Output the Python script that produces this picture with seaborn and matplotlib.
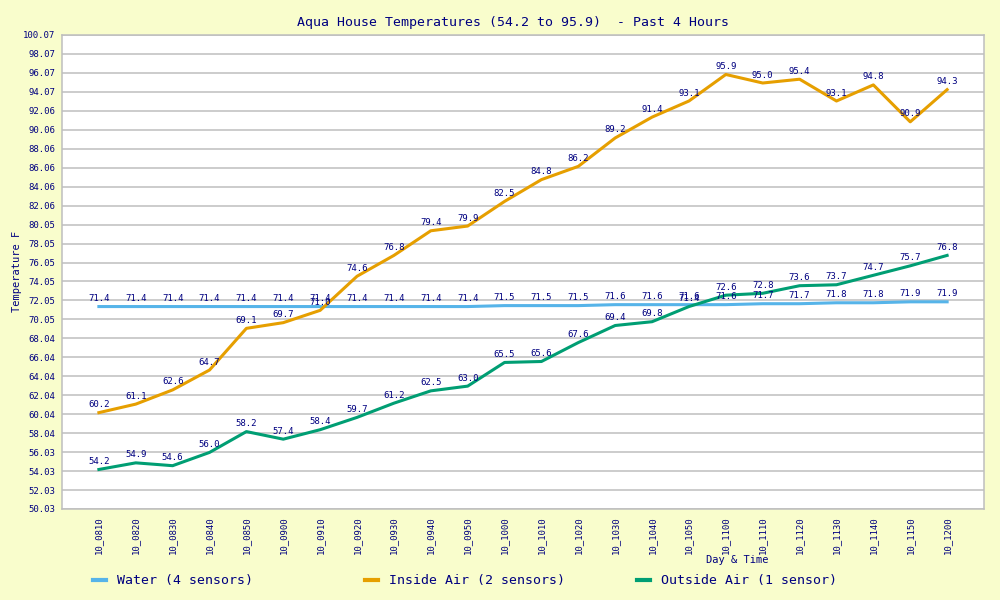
import numpy as np
import pandas as pd
import seaborn as sns
import matplotlib
matplotlib.use('Agg')
import matplotlib.pyplot as plt

# Data
times = ['10_0810', '10_0820', '10_0830', '10_0840', '10_0850', '10_0900',
         '10_0910', '10_0920', '10_0930', '10_0940', '10_0950', '10_1000',
         '10_1010', '10_1020', '10_1030', '10_1040', '10_1050', '10_1100',
         '10_1110', '10_1120', '10_1130', '10_1140', '10_1150', '10_1200']
water = [71.4, 71.4, 71.4, 71.4, 71.4, 71.4, 71.4, 71.4, 71.4, 71.4, 71.4, 71.5,
         71.5, 71.5, 71.6, 71.6, 71.6, 71.6, 71.7, 71.7, 71.8, 71.8, 71.9, 71.9]
inside_air = [60.2, 61.1, 62.6, 64.7, 69.1, 69.7, 71.0, 74.6, 76.8, 79.4, 79.9, 82.5,
              84.8, 86.2, 89.2, 91.4, 93.1, 95.9, 95.0, 95.4, 93.1, 94.8, 90.9, 94.3]
outside_air = [54.2, 54.9, 54.6, 56.0, 58.2, 57.4, 58.4, 59.7, 61.2, 62.5, 63.0, 65.5,
               65.6, 67.6, 69.4, 69.8, 71.4, 72.6, 72.8, 73.6, 73.7, 74.7, 75.7, 76.8]
series_names = ['Water (4 sensors)', 'Inside Air (2 sensors)', 'Outside Air (1 sensor)']
y_min, y_max = 50.03, 100.07

colors = ['#56B4E9', '#E69F00', '#009E73']
navy = '#000080'
bg = '#F9FDCC'

rows = []
for name, vals in zip(series_names, [water, inside_air, outside_air]):
    for i, v in enumerate(vals):
        rows.append({'idx': i, 'time': times[i], 'temp': v, 'series': name})
df = pd.DataFrame(rows)

plt.rcParams['font.family'] = ['DejaVu Sans Mono', 'DejaVu Sans']

fig = plt.figure(figsize=(10, 6), dpi=100, facecolor=bg)
ax = fig.add_axes([0.062, 0.1517, 0.922, 0.79])
ax.set_facecolor('white')

sns.lineplot(data=df, x='idx', y='temp', hue='series', palette=colors,
             hue_order=series_names, linewidth=2.2, ax=ax)

# value labels above each point
for name in series_names:
    sub = df[df['series'] == name]
    for _, r in sub.iterrows():
        ax.annotate(f"{r['temp']:.1f}", (r['idx'], r['temp']), xytext=(0, 2.5),
                    textcoords='offset points', ha='center', va='bottom',
                    fontsize=6.5, color=navy)

ax.set_xlim(-1, len(times))
ax.set_ylim(y_min, y_max)
yticks = np.linspace(y_min, y_max, 26)
ax.set_yticks(yticks)
ax.set_yticklabels([f"{t:.2f}" for t in yticks])
ax.set_xticks(range(len(times)))
ax.set_xticklabels(times, rotation=90)
ax.tick_params(axis='both', length=0, labelsize=6.5, labelcolor=navy)
ax.tick_params(axis='y', pad=5)
ax.tick_params(axis='x', pad=5)
ax.yaxis.grid(True, color='#BEBEBE', linewidth=1.1)
ax.xaxis.grid(False)
ax.set_axisbelow(True)
for s in ax.spines.values():
    s.set_color('#BEBEBE')
    s.set_linewidth(1.1)
ax.set_xlabel('')
ax.set_ylabel('')

handles, labels = ax.get_legend_handles_labels()
ax.get_legend().remove()

fig.text(0.513, 0.962, 'Aqua House Temperatures (54.2 to 95.9)  - Past 4 Hours',
         ha='center', va='center', fontsize=9.5, color=navy)
fig.text(0.017, 0.547, 'Temperature F', rotation=90, ha='center', va='center',
         fontsize=7.5, color=navy)
fig.text(0.737, 0.067, 'Day & Time', ha='center', va='center', fontsize=7.5, color=navy)

for h, lab, xpos in zip(handles, labels, [0.093, 0.365, 0.637]):
    leg = fig.legend([h], [lab], loc='center left', bbox_to_anchor=(xpos, 0.032),
                     frameon=False, fontsize=9.5, handlelength=1.0, handletextpad=0.8,
                     borderpad=0, borderaxespad=0, labelcolor=navy)
    for line in leg.get_lines():
        line.set_linewidth(3)

fig.savefig('out.png', dpi=100, facecolor=bg)
